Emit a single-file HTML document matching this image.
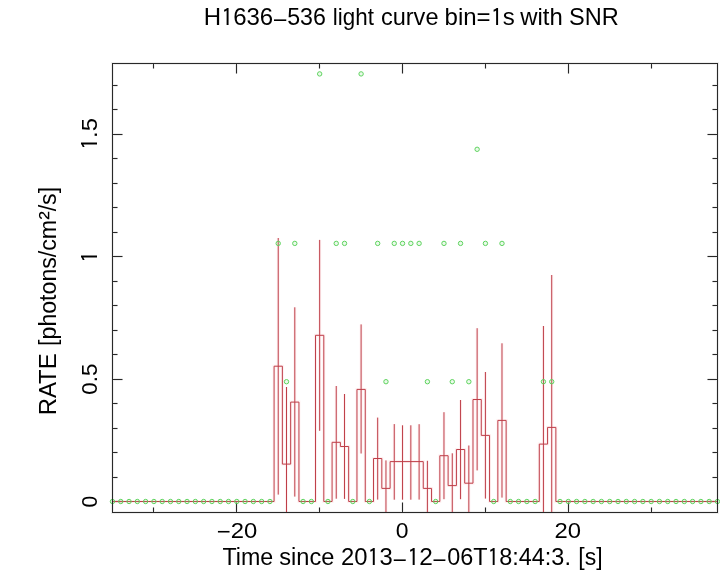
<!DOCTYPE html>
<html><head><meta charset="utf-8"><title>H1636-536 light curve</title>
<style>
html,body{margin:0;padding:0;background:#fff;width:720px;height:570px;overflow:hidden}
svg{display:block}
text{font-family:"Liberation Sans",Arial,Helvetica,sans-serif;fill:#000}
</style></head><body>
<svg width="720" height="570" viewBox="0 0 720 570">
<rect width="720" height="570" fill="#fff"/>
<defs><clipPath id="c"><rect x="112.5" y="63.5" width="605" height="449"/></clipPath></defs>
<g fill="none" stroke="rgb(238,238,238)" stroke-width="3">
<rect x="112.5" y="63.5" width="605" height="449"/>
<path d="M153.5 512.5v-5M153.5 63.5v5M236.5 512.5v-10M236.5 63.5v10M319.5 512.5v-5M319.5 63.5v5M402.5 512.5v-10M402.5 63.5v10M485.5 512.5v-5M485.5 63.5v5M568.5 512.5v-10M568.5 63.5v10M651.5 512.5v-5M651.5 63.5v5M112.5 501.5h10M717.5 501.5h-10M112.5 477.5h5M717.5 477.5h-5M112.5 452.5h5M717.5 452.5h-5M112.5 428.5h5M717.5 428.5h-5M112.5 403.5h5M717.5 403.5h-5M112.5 379.5h10M717.5 379.5h-10M112.5 354.5h5M717.5 354.5h-5M112.5 330.5h5M717.5 330.5h-5M112.5 305.5h5M717.5 305.5h-5M112.5 281.5h5M717.5 281.5h-5M112.5 256.5h10M717.5 256.5h-10M112.5 232.5h5M717.5 232.5h-5M112.5 207.5h5M717.5 207.5h-5M112.5 183.5h5M717.5 183.5h-5M112.5 158.5h5M717.5 158.5h-5M112.5 134.5h10M717.5 134.5h-10M112.5 109.5h5M717.5 109.5h-5M112.5 85.5h5M717.5 85.5h-5"/>
</g>
<path fill="none" stroke="rgb(40,40,40)" stroke-width="1" d="M153.5 512.5v-5M153.5 63.5v5M236.5 512.5v-10M236.5 63.5v10M319.5 512.5v-5M319.5 63.5v5M402.5 512.5v-10M402.5 63.5v10M485.5 512.5v-5M485.5 63.5v5M568.5 512.5v-10M568.5 63.5v10M651.5 512.5v-5M651.5 63.5v5M112.5 501.5h10M717.5 501.5h-10M112.5 477.5h5M717.5 477.5h-5M112.5 452.5h5M717.5 452.5h-5M112.5 428.5h5M717.5 428.5h-5M112.5 403.5h5M717.5 403.5h-5M112.5 379.5h10M717.5 379.5h-10M112.5 354.5h5M717.5 354.5h-5M112.5 330.5h5M717.5 330.5h-5M112.5 305.5h5M717.5 305.5h-5M112.5 281.5h5M717.5 281.5h-5M112.5 256.5h10M717.5 256.5h-10M112.5 232.5h5M717.5 232.5h-5M112.5 207.5h5M717.5 207.5h-5M112.5 183.5h5M717.5 183.5h-5M112.5 158.5h5M717.5 158.5h-5M112.5 134.5h10M717.5 134.5h-10M112.5 109.5h5M717.5 109.5h-5M112.5 85.5h5M717.5 85.5h-5"/>
<g clip-path="url(#c)" fill="none" stroke="rgb(255,241,242)" stroke-width="3" style="mix-blend-mode:multiply">
<path d="M100.04 501.5H274.08V366.2H282.37V464.1H290.66V402.1H298.94V501.5H315.52V335.3H323.81V501.5H332.09V442.3H340.38V446.5H348.67V501.5H356.96V389.4H365.25V501.5H373.53V458.5H381.82V488.4H390.11V461.6H423.26V488.4H431.55V501.5H439.83V455.7H448.12V485.6H456.41V449.5H464.7V483.2H472.99V399.5H481.27V435.4H489.56V501.5H497.85V420.4H506.14V501.5H539.29V444.1H547.57V427.4H555.86V501.5H729.9"/>
<path d="M278.22 238V494.6M286.51 387V512.5M294.8 307.3V496.6M319.66 239.9V430.8M336.24 386V498.7M344.53 394V498.9M361.1 324.4V453.5M377.68 417.6V499.6M385.96 460.4V512.5M394.25 424.1V499.7M402.54 425.3V499.7M410.83 425.3V499.7M419.12 424.2V499.6M427.4 460.8V512.5M443.98 412.2V499.2M452.27 453.3V512.5M460.55 400V499.2M468.84 445.5V512.5M477.13 328.2V470.4M485.42 372V498.6M501.99 343.3V497.6M543.43 326V512.5M551.72 275V512.5"/>
</g>
<g clip-path="url(#c)" fill="none" stroke="rgb(190,62,72)" stroke-width="1">
<path d="M100.04 501.5H274.08V366.2H282.37V464.1H290.66V402.1H298.94V501.5H315.52V335.3H323.81V501.5H332.09V442.3H340.38V446.5H348.67V501.5H356.96V389.4H365.25V501.5H373.53V458.5H381.82V488.4H390.11V461.6H423.26V488.4H431.55V501.5H439.83V455.7H448.12V485.6H456.41V449.5H464.7V483.2H472.99V399.5H481.27V435.4H489.56V501.5H497.85V420.4H506.14V501.5H539.29V444.1H547.57V427.4H555.86V501.5H729.9"/>
<path d="M278.22 238V494.6M286.51 387V512.5M294.8 307.3V496.6M319.66 239.9V430.8M336.24 386V498.7M344.53 394V498.9M361.1 324.4V453.5M377.68 417.6V499.6M385.96 460.4V512.5M394.25 424.1V499.7M402.54 425.3V499.7M410.83 425.3V499.7M419.12 424.2V499.6M427.4 460.8V512.5M443.98 412.2V499.2M452.27 453.3V512.5M460.55 400V499.2M468.84 445.5V512.5M477.13 328.2V470.4M485.42 372V498.6M501.99 343.3V497.6M543.43 326V512.5M551.72 275V512.5"/>
</g>
<g fill="rgba(140,225,140,0.18)" stroke="rgb(95,212,95)" stroke-width="1"><circle cx="112.47" cy="501.5" r="2.2"/><circle cx="120.76" cy="501.5" r="2.2"/><circle cx="129.05" cy="501.5" r="2.2"/><circle cx="137.33" cy="501.5" r="2.2"/><circle cx="145.62" cy="501.5" r="2.2"/><circle cx="153.91" cy="501.5" r="2.2"/><circle cx="162.2" cy="501.5" r="2.2"/><circle cx="170.48" cy="501.5" r="2.2"/><circle cx="178.77" cy="501.5" r="2.2"/><circle cx="187.06" cy="501.5" r="2.2"/><circle cx="195.35" cy="501.5" r="2.2"/><circle cx="203.64" cy="501.5" r="2.2"/><circle cx="211.92" cy="501.5" r="2.2"/><circle cx="220.21" cy="501.5" r="2.2"/><circle cx="228.5" cy="501.5" r="2.2"/><circle cx="236.79" cy="501.5" r="2.2"/><circle cx="245.07" cy="501.5" r="2.2"/><circle cx="253.36" cy="501.5" r="2.2"/><circle cx="261.65" cy="501.5" r="2.2"/><circle cx="269.94" cy="501.5" r="2.2"/><circle cx="278.22" cy="243.4" r="2.2"/><circle cx="286.51" cy="381.7" r="2.2"/><circle cx="294.8" cy="243.4" r="2.2"/><circle cx="303.09" cy="501.5" r="2.2"/><circle cx="311.38" cy="501.5" r="2.2"/><circle cx="319.66" cy="73.9" r="2.2"/><circle cx="327.95" cy="501.5" r="2.2"/><circle cx="336.24" cy="243.4" r="2.2"/><circle cx="344.53" cy="243.4" r="2.2"/><circle cx="352.81" cy="501.5" r="2.2"/><circle cx="361.1" cy="73.9" r="2.2"/><circle cx="369.39" cy="501.5" r="2.2"/><circle cx="377.68" cy="243.4" r="2.2"/><circle cx="385.96" cy="381.7" r="2.2"/><circle cx="394.25" cy="243.4" r="2.2"/><circle cx="402.54" cy="243.4" r="2.2"/><circle cx="410.83" cy="243.4" r="2.2"/><circle cx="419.12" cy="243.4" r="2.2"/><circle cx="427.4" cy="381.7" r="2.2"/><circle cx="435.69" cy="501.5" r="2.2"/><circle cx="443.98" cy="243.4" r="2.2"/><circle cx="452.27" cy="381.7" r="2.2"/><circle cx="460.55" cy="243.4" r="2.2"/><circle cx="468.84" cy="381.7" r="2.2"/><circle cx="477.13" cy="149.3" r="2.2"/><circle cx="485.42" cy="243.4" r="2.2"/><circle cx="493.7" cy="501.5" r="2.2"/><circle cx="501.99" cy="243.4" r="2.2"/><circle cx="510.28" cy="501.5" r="2.2"/><circle cx="518.57" cy="501.5" r="2.2"/><circle cx="526.86" cy="501.5" r="2.2"/><circle cx="535.14" cy="501.5" r="2.2"/><circle cx="543.43" cy="381.7" r="2.2"/><circle cx="551.72" cy="381.7" r="2.2"/><circle cx="560.01" cy="501.5" r="2.2"/><circle cx="568.29" cy="501.5" r="2.2"/><circle cx="576.58" cy="501.5" r="2.2"/><circle cx="584.87" cy="501.5" r="2.2"/><circle cx="593.16" cy="501.5" r="2.2"/><circle cx="601.44" cy="501.5" r="2.2"/><circle cx="609.73" cy="501.5" r="2.2"/><circle cx="618.02" cy="501.5" r="2.2"/><circle cx="626.31" cy="501.5" r="2.2"/><circle cx="634.6" cy="501.5" r="2.2"/><circle cx="642.88" cy="501.5" r="2.2"/><circle cx="651.17" cy="501.5" r="2.2"/><circle cx="659.46" cy="501.5" r="2.2"/><circle cx="667.75" cy="501.5" r="2.2"/><circle cx="676.03" cy="501.5" r="2.2"/><circle cx="684.32" cy="501.5" r="2.2"/><circle cx="692.61" cy="501.5" r="2.2"/><circle cx="700.9" cy="501.5" r="2.2"/><circle cx="709.18" cy="501.5" r="2.2"/><circle cx="717.47" cy="501.5" r="2.2"/></g>
<rect x="112.5" y="63.5" width="605" height="449" fill="none" stroke="rgb(40,40,40)" stroke-width="1"/>
<text x="203.8" y="25.3" font-size="24">H<tspan font-family="IPAGothic" baseline-shift="-1">1</tspan>636</text>
<text x="273.9" y="26.3" font-size="24" textLength="12.29" lengthAdjust="spacingAndGlyphs">&#8211;</text>
<text x="287.23" y="25.3" font-size="24" textLength="38.68" lengthAdjust="spacingAndGlyphs">536</text>
<text x="332.87" y="25.3" font-size="24" textLength="41.06" lengthAdjust="spacingAndGlyphs">light</text>
<text x="380.92" y="25.3" font-size="24" textLength="57.56" lengthAdjust="spacingAndGlyphs">curve</text>
<text x="444.6" y="25.3" font-size="24">bin=<tspan font-family="IPAGothic" baseline-shift="-1">1</tspan>s</text>
<text x="520.3" y="25.3" font-size="24" textLength="42.48" lengthAdjust="spacingAndGlyphs">with</text>
<text x="569.12" y="25.3" font-size="24" textLength="49.72" lengthAdjust="spacingAndGlyphs">SNR</text>
<text x="222.5" y="565" font-size="23" textLength="50.77" lengthAdjust="spacingAndGlyphs">Time</text>
<text x="279.27" y="565" font-size="23" textLength="55.15" lengthAdjust="spacingAndGlyphs">since</text>
<text x="341.06" y="565" font-size="23" textLength="51.66" lengthAdjust="spacingAndGlyphs">20<tspan font-family="IPAGothic" baseline-shift="-1">1</tspan>3</text>
<text x="393.7" y="565.7" font-size="23" textLength="12.01" lengthAdjust="spacingAndGlyphs">&#8211;</text>
<text x="407.18" y="565" font-size="23" textLength="25.76" lengthAdjust="spacingAndGlyphs"><tspan font-family="IPAGothic" baseline-shift="-1">1</tspan>2</text>
<text x="433.6" y="565.7" font-size="23" textLength="11.91" lengthAdjust="spacingAndGlyphs">&#8211;</text>
<text x="447.28" y="565" font-size="23" textLength="123.62" lengthAdjust="spacingAndGlyphs">06T<tspan font-family="IPAGothic" baseline-shift="-1">1</tspan>8:44:3.</text>
<text x="578.3" y="565" font-size="23">[s]</text>
<text transform="translate(56 0) rotate(-90)" x="-415.38" y="0" font-size="23" textLength="62.05" lengthAdjust="spacingAndGlyphs">RATE</text>
<text transform="translate(56 0) rotate(-90)" x="-345.91" y="0" font-size="23" textLength="158.99" lengthAdjust="spacingAndGlyphs">[photons/cm<tspan font-size="25.5" baseline-shift="0.4">&#178;</tspan>/s]</text>
<text x="216.84" y="539.1" font-size="22.5" textLength="13.93" lengthAdjust="spacingAndGlyphs">&#8722;</text>
<text x="230.74" y="537.7" font-size="22.5" textLength="26.53" lengthAdjust="spacingAndGlyphs">20</text>
<text x="395.88" y="537.7" font-size="22.5" textLength="12.75" lengthAdjust="spacingAndGlyphs">0</text>
<text x="554.44" y="537.7" font-size="22.5" textLength="26.53" lengthAdjust="spacingAndGlyphs">20</text>
<text transform="translate(97.4 0) rotate(-90)" x="-507.43" y="0" font-size="22.5" textLength="11.67" lengthAdjust="spacingAndGlyphs">0</text>
<text transform="translate(97.4 0) rotate(-90)" x="-394.69" y="0" font-size="22.5" textLength="30.97" lengthAdjust="spacingAndGlyphs">0.5</text>
<text transform="translate(97.4 0) rotate(-90)" x="-262.82" y="0" font-size="22.5" textLength="11.93" lengthAdjust="spacingAndGlyphs"><tspan font-family="IPAGothic" baseline-shift="-1">1</tspan></text>
<text transform="translate(97.4 0) rotate(-90)" x="-149.82" y="0" font-size="22.5" textLength="31.82" lengthAdjust="spacingAndGlyphs"><tspan font-family="IPAGothic" baseline-shift="-1">1</tspan>.5</text>
</svg>
</body></html>
